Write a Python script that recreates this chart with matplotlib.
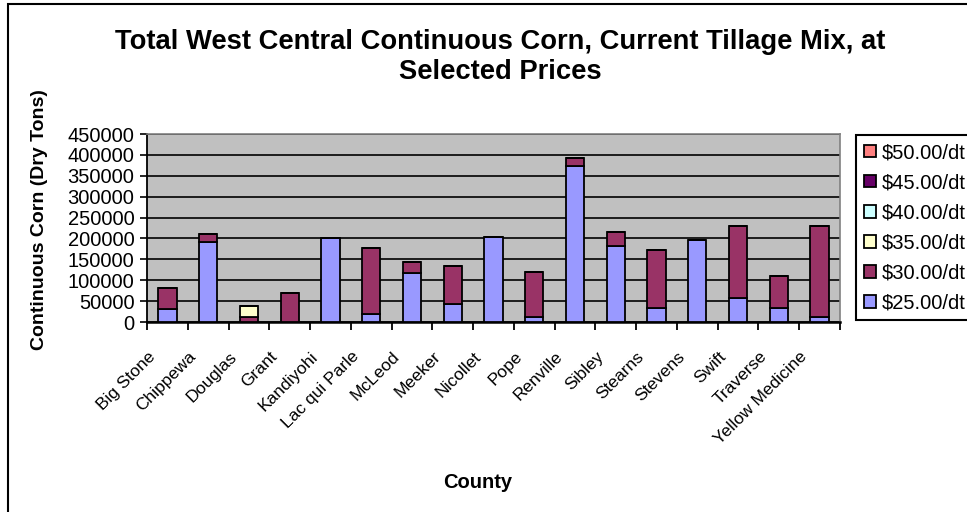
import matplotlib
matplotlib.use("Agg")
import matplotlib.pyplot as plt
from matplotlib.patches import Rectangle
from matplotlib.transforms import ScaledTranslation
import numpy as np

plt.rcParams['font.family'] = ['Liberation Sans', 'DejaVu Sans']

counties = ["Big Stone", "Chippewa", "Douglas", "Grant", "Kandiyohi", "Lac qui Parle",
            "McLeod", "Meeker", "Nicollet", "Pope", "Renville", "Sibley", "Stearns",
            "Stevens", "Swift", "Traverse", "Yellow Medicine"]

# tons available at each price (incremental over the previous price)
p25 = [32000, 191000, 0, 0, 200000, 18400, 118400, 44000, 204000, 12800, 373600,
       181600, 32800, 195200, 57600, 32800, 12800]
p30 = [49000, 19000, 12000, 69600, 0, 159000, 25600, 89600, 0, 106400, 19200,
       33600, 139200, 0, 172000, 77600, 216800]
p35 = [0, 0, 26000, 0, 0, 0, 0, 0, 0, 0, 0, 0, 0, 0, 0, 0, 0]
p40 = [0] * 17
p45 = [0] * 17
p50 = [0] * 17

series = [("$25.00/dt", p25, "#9999FF"),
          ("$30.00/dt", p30, "#993366"),
          ("$35.00/dt", p35, "#FFFFCC"),
          ("$40.00/dt", p40, "#CCFFFF"),
          ("$45.00/dt", p45, "#660066"),
          ("$50.00/dt", p50, "#FF8080")]

fig = plt.figure(figsize=(9.67, 5.12), dpi=100)
ax = fig.add_axes([147/967, 1-322/512, (840-147)/967, (322-134)/512])
ax.set_facecolor("#C0C0C0")

x = np.arange(len(counties))
bottom = np.zeros(len(counties))
handles = []
for name, vals, col in series:
    vals = np.array(vals, dtype=float)
    h = ax.bar(x, vals, 0.45, bottom=bottom, color=col, edgecolor="black",
               linewidth=1.3, label=name, zorder=3)
    handles.append(h)
    bottom += vals

ax.set_xlim(-0.5, len(counties) - 0.5)
ax.set_ylim(0, 450000)
ax.set_yticks(np.arange(0, 450001, 50000))
ax.yaxis.grid(True, color="black", linewidth=1.2, zorder=0)
ax.set_axisbelow(True)
ax.tick_params(axis="y", labelsize=14.5, length=5, width=1.2, direction="out", pad=4)

# category ticks sit between the bars
ax.set_xticks(np.arange(-0.5, len(counties), 1.0))
ax.set_xticklabels([])
ax.set_xticks(x, minor=True)
ax.set_xticklabels(counties, minor=True, rotation=45, ha="right", va="top",
                   rotation_mode="anchor", fontsize=12.5)
ax.tick_params(axis="x", which="major", length=6, width=1.3, direction="out")
ax.tick_params(axis="x", which="minor", length=0, pad=10)
for lab in ax.get_xticklabels(minor=True):
    lab.set_transform(lab.get_transform() + ScaledTranslation(-0.2, -0.13, fig.dpi_scale_trans))

for side in ("top", "right"):
    ax.spines[side].set_color("#808080")
    ax.spines[side].set_linewidth(1.2)
ax.spines["left"].set_linewidth(1.3)
ax.spines["bottom"].set_linewidth(1.8)

fig.text(500/967, 1-57/512, "Total West Central Continuous Corn, Current Tillage Mix, at\nSelected Prices",
         ha="center", va="center", fontsize=19.7, fontweight="bold", linespacing=1.2)
fig.text(478/967, 1-482/512, "County", ha="center", va="center", fontsize=14.5, fontweight="bold")
fig.text(40/967, 1-220/512, "Continuous Corn (Dry Tons)", ha="center", va="center",
         rotation=90, fontsize=14, fontweight="bold")

leg = fig.legend(handles[::-1], [s[0] for s in series[::-1]], loc="upper left",
                 bbox_to_anchor=(856/967, 1-135/512), fontsize=14.5, frameon=True,
                 fancybox=False, edgecolor="black", framealpha=1, borderpad=0.4,
                 labelspacing=0.55, handlelength=0.6, handleheight=0.6, handletextpad=0.3,
                 borderaxespad=0)
leg.get_frame().set_linewidth(1.5)

# outer chart border
fig.add_artist(Rectangle((8/967, -0.1), 1.0, 1.1 - 4/512, transform=fig.transFigure,
                         fill=False, edgecolor="black", linewidth=1.5))

fig.savefig("out.png", dpi=100)
